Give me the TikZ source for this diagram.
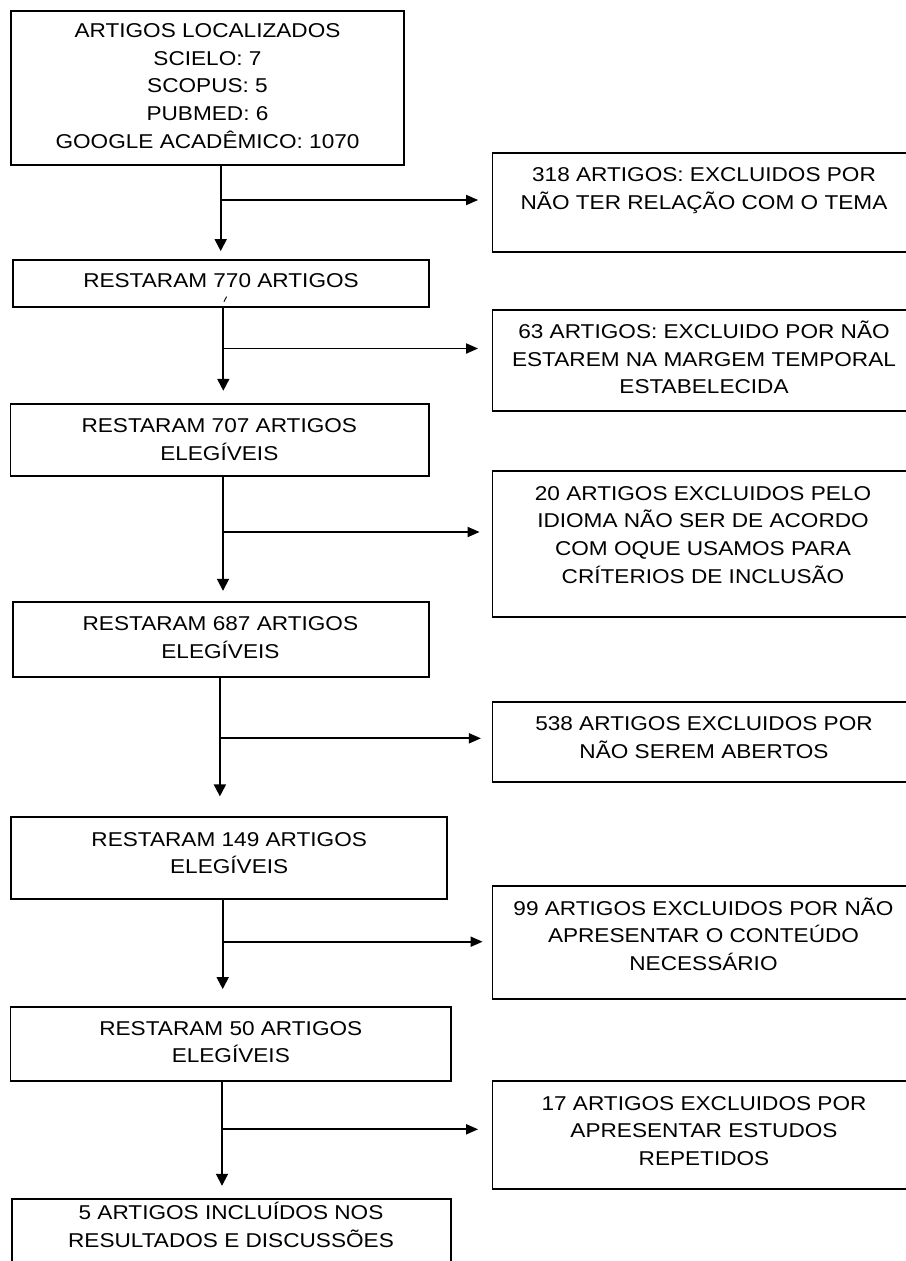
\documentclass[tikz,border=0pt]{standalone}
\usepackage{fontspec}
\setmainfont{Liberation Sans}[FakeStretch=1.13]
\usetikzlibrary{arrows.meta}
\newcommand{\txtblock}[1]{\begin{tabular}[t]{@{}c@{}}#1\end{tabular}}
\begin{document}
\begin{tikzpicture}[x=1pt,y=-1pt,
  box/.style={draw=black,line width=1.8pt,inner sep=0pt,rectangle},
  txt/.style={anchor=base,inner sep=0pt,font=\fontsize{20}{27.7}\selectfont},
  conn/.style={draw=black,line width=1.8pt},
  varr/.style={conn,-{Triangle[length=12pt,width=12pt]}},
  harr/.style={conn,-{Triangle[length=12pt,width=10pt]}}]
\useasboundingbox (0,0) rectangle (905,1261);
% left boxes
\node[box,minimum width=393pt,minimum height=154pt] (b1) at (207.5,88) {};
\node[box,minimum width=416pt,minimum height=47pt] (b2) at (221,283.5) {};
\node[box,minimum width=418.4pt,minimum height=72pt] (b3) at (219.6,440) {};
\node[box,minimum width=416pt,minimum height=75.3pt] (b4) at (220.75,639.65) {};
\node[box,minimum width=436.3pt,minimum height=82.3pt] (b5) at (229.15,857.85) {};
\node[box,minimum width=440.6pt,minimum height=74pt] (b6) at (230.7,1043.7) {};
\node[box,minimum width=439pt,minimum height=101pt] (b7) at (231.5,1249.5) {};
% right boxes
\node[box,minimum width=424pt,minimum height=99.6pt] (r1) at (704.5,202.5) {};
\node[box,minimum width=424pt,minimum height=100.7pt] (r2) at (704.5,360.35) {};
\node[box,minimum width=424pt,minimum height=146.3pt] (r3) at (704.5,544.15) {};
\node[box,minimum width=424pt,minimum height=79.7pt] (r4) at (704.5,741.85) {};
\node[box,minimum width=424pt,minimum height=113.3pt] (r5) at (704.5,942.65) {};
\node[box,minimum width=424pt,minimum height=107.7pt] (r6) at (704.5,1135.15) {};
% texts left
\node[txt] (t1) at (207.5,37.3) {\txtblock{ARTIGOS LOCALIZADOS\\SCIELO: 7\\SCOPUS: 5\\PUBMED: 6\\GOOGLE ACADÊMICO: 1070}};
\node[txt] (t2) at (221,287.3) {\txtblock{RESTARAM 770 ARTIGOS}};
\node[txt] (t3) at (219.3,432.3) {\txtblock{RESTARAM 707 ARTIGOS\\ELEGÍVEIS}};
\node[txt] (t4) at (220.4,630.7) {\txtblock{RESTARAM 687 ARTIGOS\\ELEGÍVEIS}};
\node[txt] (t5) at (229.2,846) {\txtblock{RESTARAM 149 ARTIGOS\\ELEGÍVEIS}};
\node[txt] (t6) at (230.8,1035) {\txtblock{RESTARAM 50 ARTIGOS\\ELEGÍVEIS}};
\node[txt] (t7) at (231,1219.3) {\txtblock{5 ARTIGOS INCLUÍDOS NOS\\RESULTADOS E DISCUSSÕES}};
% texts right
\node[txt] (u1) at (704,181.7) {\txtblock{318 ARTIGOS: EXCLUIDOS POR\\NÃO TER RELAÇÃO COM O TEMA}};
\node[txt] (u2) at (704,338.3) {\txtblock{63 ARTIGOS: EXCLUIDO POR NÃO\\ESTAREM NA MARGEM TEMPORAL\\ESTABELECIDA}};
\node[txt] (u3) at (703,500) {\txtblock{20 ARTIGOS EXCLUIDOS PELO\\IDIOMA NÃO SER DE ACORDO\\COM OQUE USAMOS PARA\\CRÍTERIOS DE INCLUSÃO}};
\node[txt] (u4) at (704,730.7) {\txtblock{538 ARTIGOS EXCLUIDOS POR\\NÃO SEREM ABERTOS}};
\node[txt] (u5) at (703.5,915) {\txtblock{99 ARTIGOS EXCLUIDOS POR NÃO\\APRESENTAR O CONTEÚDO\\NECESSÁRIO}};
\node[txt] (u6) at (704,1110) {\txtblock{17 ARTIGOS EXCLUIDOS POR\\APRESENTAR ESTUDOS\\REPETIDOS}};
% stray accent inside b2
\draw[line width=0.9pt] (223.9,301.8) -- (226.6,296.6);
% junctions
\coordinate (j1) at (220.7,200);
\coordinate (j2) at (223.3,348.5);
\coordinate (j3) at (223,532);
\coordinate (j4) at (219.9,738.3);
\coordinate (j5) at (222.7,941.7);
\coordinate (j6) at (222,1129.3);
% vertical arrows
\draw[varr,shorten >=8pt] (b1.south -| j1) -- (b2.north -| j1);
\draw[varr,shorten >=12.3pt] (b2.south -| j2) -- (b3.north -| j2);
\draw[varr,shorten >=10.3pt] (b3.south -| j3) -- (b4.north -| j3);
\draw[varr,shorten >=19.4pt] (b4.south -| j4) -- (b5.north -| j4);
\draw[varr,shorten >=16.7pt] (b5.south -| j5) -- (b6.north -| j5);
\draw[varr,shorten >=12.3pt] (b6.south -| j6) -- (b7.north -| j6);
% horizontal arrows
\draw[harr,shorten >=13.5pt] (j1) -- (j1 -| r1.west);
\draw[harr,shorten >=13.5pt] (j2) -- (j2 -| r2.west);
\draw[harr,shorten >=12pt] (j3) -- (j3 -| r3.west);
\draw[harr,shorten >=10.7pt] (j4) -- (j4 -| r4.west);
\draw[harr,shorten >=9pt] (j5) -- (j5 -| r5.west);
\draw[harr,shorten >=13.5pt] (j6) -- (j6 -| r6.west);
\end{tikzpicture}
\end{document}
